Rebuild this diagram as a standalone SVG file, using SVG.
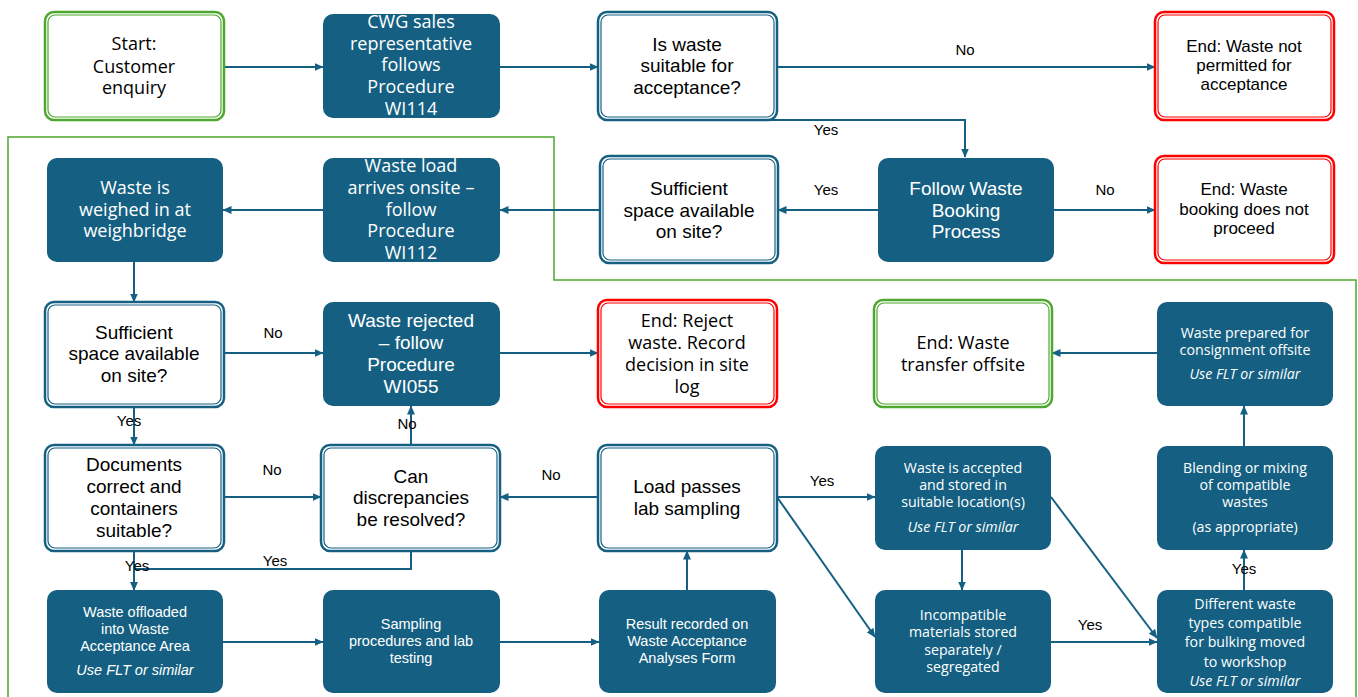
<svg xmlns="http://www.w3.org/2000/svg" width="1358" height="697" viewBox="0 0 1358 697">
<style>
.fill{fill:#156082;stroke:none}
.ob{fill:#fff;stroke:#156082;stroke-width:2.5}
.ib{fill:none;stroke:#156082;stroke-width:1.2}
.or{fill:#fff;stroke:#ff0000;stroke-width:2.5}
.ir{fill:none;stroke:#ff0000;stroke-width:1.2}
.og{fill:#fff;stroke:#4ea72e;stroke-width:2.5}
.ig{fill:none;stroke:#4ea72e;stroke-width:1.2}
text{text-anchor:middle}
.w{fill:#fff}
.k{fill:#000}
.reg{font-family:"Open Sans","Liberation Sans",sans-serif;font-size:18px}
.nar{font-family:"Liberation Sans",Arial,sans-serif;font-size:19px}
.nar17{font-family:"Liberation Sans",Arial,sans-serif;font-size:17px}
.sm{font-family:"Open Sans","Liberation Sans",sans-serif;font-size:14.2px}
.smn{font-family:"Liberation Sans",Arial,sans-serif;font-size:14.5px}
.it{font-style:italic}
.lbl{font-family:"Liberation Sans",Arial,sans-serif;font-size:15px;fill:#000}
.c{fill:none;stroke:#156082;stroke-width:2}
.bound{fill:none;stroke:#4ea72e;stroke-width:1.5}
</style>
<defs>
<marker id="ah" markerUnits="userSpaceOnUse" markerWidth="9" markerHeight="8" refX="8.5" refY="4" orient="auto">
<path d="M0,0 L9,4 L0,8 z" fill="#156082"/>
</marker>
</defs>

<polyline class="bound" points="8,697 8,137 554,137 554,280 1356,280 1356,697"/>

<g id="connectors">
<path class="c" marker-end="url(#ah)" d="M224,67 H323"/>
<path class="c" marker-end="url(#ah)" d="M500,67 H598"/>
<path class="c" marker-end="url(#ah)" d="M777,67 H1155"/>
<path class="c" marker-end="url(#ah)" d="M687,120 H965 V157"/>
<path class="c" marker-end="url(#ah)" d="M878,210 H778"/>
<path class="c" marker-end="url(#ah)" d="M1054,210 H1155"/>
<path class="c" marker-end="url(#ah)" d="M600,210 H500"/>
<path class="c" marker-end="url(#ah)" d="M323,210 H223"/>
<path class="c" marker-end="url(#ah)" d="M134,262 V302"/>
<path class="c" marker-end="url(#ah)" d="M224,353 H323"/>
<path class="c" marker-end="url(#ah)" d="M500,353 H598"/>
<path class="c" marker-end="url(#ah)" d="M1157,353 H1052"/>
<path class="c" marker-end="url(#ah)" d="M134,407 V445"/>
<path class="c" marker-end="url(#ah)" d="M411,445 V406"/>
<path class="c" marker-end="url(#ah)" d="M224,497 H321"/>
<path class="c" marker-end="url(#ah)" d="M598,497 H500"/>
<path class="c" marker-end="url(#ah)" d="M777,497 H875"/>
<path class="c" marker-end="url(#ah)" d="M777,497 L875,637"/>
<path class="c" marker-end="url(#ah)" d="M1051,497 L1157,638"/>
<path class="c" marker-end="url(#ah)" d="M962,550 V590"/>
<path class="c" marker-end="url(#ah)" d="M1244,446 V406"/>
<path class="c" marker-end="url(#ah)" d="M1244,590 V550"/>
<path class="c" marker-end="url(#ah)" d="M411,551 V569 H134 V590"/>
<path class="c" marker-end="url(#ah)" d="M134,551 V590"/>
<path class="c" marker-end="url(#ah)" d="M223,642 H323"/>
<path class="c" marker-end="url(#ah)" d="M500,642 H599"/>
<path class="c" marker-end="url(#ah)" d="M687,590 V551"/>
<path class="c" marker-end="url(#ah)" d="M1051,642 H1157"/>
<text class="lbl" x="965" y="55">No</text>
<text class="lbl" x="826" y="135">Yes</text>
<text class="lbl" x="826" y="195">Yes</text>
<text class="lbl" x="1105" y="195">No</text>
<text class="lbl" x="273" y="338">No</text>
<text class="lbl" x="129" y="426">Yes</text>
<text class="lbl" x="407" y="429">No</text>
<text class="lbl" x="272" y="475">No</text>
<text class="lbl" x="551" y="480">No</text>
<text class="lbl" x="822" y="486">Yes</text>
<text class="lbl" x="1244" y="574">Yes</text>
<text class="lbl" x="275" y="566">Yes</text>
<text class="lbl" x="137" y="571">Yes</text>
<text class="lbl" x="1090" y="630">Yes</text>
</g>

<g id="n_start">
<rect class="og" x="45" y="12" width="179" height="108" rx="9"/>
<rect class="ig" x="48" y="15" width="173" height="102" rx="7"/>
<text class="reg k"><tspan x="134" y="50">Start:</tspan><tspan x="134" y="73">Customer</tspan><tspan x="134" y="94">enquiry</tspan></text>
</g>

<g id="n_cwg">
<rect class="fill" x="323" y="14" width="177" height="104" rx="10"/>
<text class="reg w"><tspan x="411" y="28">CWG sales</tspan><tspan x="411" y="50">representative</tspan><tspan x="411" y="71">follows</tspan><tspan x="411" y="93">Procedure</tspan><tspan x="411" y="115">WI114</tspan></text>
</g>

<g id="n_q1">
<rect class="ob" x="598" y="12" width="179" height="108" rx="9"/>
<rect class="ib" x="601" y="15" width="173" height="102" rx="7"/>
<text class="nar k"><tspan x="687" y="51">Is waste</tspan><tspan x="687" y="72">suitable for</tspan><tspan x="687" y="94">acceptance?</tspan></text>
</g>

<g id="n_end1">
<rect class="or" x="1155" y="12" width="179" height="108" rx="9"/>
<rect class="ir" x="1158" y="15" width="173" height="102" rx="7"/>
<text class="nar17 k"><tspan x="1244" y="52">End: Waste not</tspan><tspan x="1244" y="71">permitted for</tspan><tspan x="1244" y="90">acceptance</tspan></text>
</g>

<g id="n_weigh">
<rect class="fill" x="47" y="158" width="176" height="104" rx="10"/>
<text class="reg w"><tspan x="135" y="194">Waste is</tspan><tspan x="135" y="216">weighed in at</tspan><tspan x="135" y="237">weighbridge</tspan></text>
</g>

<g id="n_arrive">
<rect class="fill" x="323" y="158" width="177" height="104" rx="10"/>
<text class="reg w"><tspan x="411" y="172">Waste load</tspan><tspan x="411" y="194">arrives onsite –</tspan><tspan x="411" y="216">follow</tspan><tspan x="411" y="237">Procedure</tspan><tspan x="411" y="259">WI112</tspan></text>
</g>

<g id="n_q2">
<rect class="ob" x="600" y="156" width="178" height="107" rx="9"/>
<rect class="ib" x="603" y="159" width="172" height="101" rx="7"/>
<text class="nar k"><tspan x="689" y="195">Sufficient</tspan><tspan x="689" y="217">space available</tspan><tspan x="689" y="238">on site?</tspan></text>
</g>

<g id="n_booking">
<rect class="fill" x="878" y="158" width="176" height="104" rx="10"/>
<text class="nar w"><tspan x="966" y="195">Follow Waste</tspan><tspan x="966" y="217">Booking</tspan><tspan x="966" y="238">Process</tspan></text>
</g>

<g id="n_end2">
<rect class="or" x="1155" y="156" width="179" height="107" rx="9"/>
<rect class="ir" x="1158" y="159" width="173" height="101" rx="7"/>
<text class="nar17 k"><tspan x="1244" y="195">End: Waste</tspan><tspan x="1244" y="215">booking does not</tspan><tspan x="1244" y="234">proceed</tspan></text>
</g>

<g id="n_q3">
<rect class="ob" x="45" y="302" width="179" height="105" rx="9"/>
<rect class="ib" x="48" y="305" width="173" height="99" rx="7"/>
<text class="nar k"><tspan x="134" y="339">Sufficient</tspan><tspan x="134" y="360">space available</tspan><tspan x="134" y="382">on site?</tspan></text>
</g>

<g id="n_reject">
<rect class="fill" x="323" y="302" width="177" height="104" rx="10"/>
<text class="nar w"><tspan x="411" y="327">Waste rejected</tspan><tspan x="411" y="349">– follow</tspan><tspan x="411" y="371">Procedure</tspan><tspan x="411" y="393">WI055</tspan></text>
</g>

<g id="n_end3">
<rect class="or" x="598" y="300" width="179" height="107" rx="9"/>
<rect class="ir" x="601" y="303" width="173" height="101" rx="7"/>
<text class="reg k"><tspan x="687" y="327">End: Reject</tspan><tspan x="687" y="349">waste. Record</tspan><tspan x="687" y="371">decision in site</tspan><tspan x="687" y="393">log</tspan></text>
</g>

<g id="n_transfer">
<rect class="og" x="874" y="300" width="178" height="107" rx="9"/>
<rect class="ig" x="877" y="303" width="172" height="101" rx="7"/>
<text class="reg k"><tspan x="963" y="349">End: Waste</tspan><tspan x="963" y="371">transfer offsite</tspan></text>
</g>

<g id="n_prep">
<rect class="fill" x="1157" y="302" width="176" height="104" rx="10"/>
<text class="sm w"><tspan x="1245" y="338">Waste prepared for</tspan><tspan x="1245" y="355">consignment offsite</tspan><tspan x="1245" y="379" class="it">Use FLT or similar</tspan></text>
</g>

<g id="n_docs">
<rect class="ob" x="45" y="445" width="179" height="106" rx="9"/>
<rect class="ib" x="48" y="448" width="173" height="100" rx="7"/>
<text class="nar k"><tspan x="134" y="471">Documents</tspan><tspan x="134" y="493">correct and</tspan><tspan x="134" y="515">containers</tspan><tspan x="134" y="537">suitable?</tspan></text>
</g>

<g id="n_can">
<rect class="ob" x="321" y="445" width="179" height="106" rx="9"/>
<rect class="ib" x="324" y="448" width="173" height="100" rx="7"/>
<text class="nar k"><tspan x="411" y="483">Can</tspan><tspan x="411" y="504">discrepancies</tspan><tspan x="411" y="526">be resolved?</tspan></text>
</g>

<g id="n_load">
<rect class="ob" x="598" y="445" width="179" height="106" rx="9"/>
<rect class="ib" x="601" y="448" width="173" height="100" rx="7"/>
<text class="nar k"><tspan x="687" y="493">Load passes</tspan><tspan x="687" y="515">lab sampling</tspan></text>
</g>

<g id="n_accepted">
<rect class="fill" x="875" y="446" width="176" height="104" rx="10"/>
<text class="sm w"><tspan x="963" y="473">Waste is accepted</tspan><tspan x="963" y="490">and stored in</tspan><tspan x="963" y="507">suitable location(s)</tspan><tspan x="963" y="532" class="it">Use FLT or similar</tspan></text>
</g>

<g id="n_blend">
<rect class="fill" x="1157" y="446" width="176" height="104" rx="10"/>
<text class="sm w"><tspan x="1245" y="473">Blending or mixing</tspan><tspan x="1245" y="490">of compatible</tspan><tspan x="1245" y="507">wastes</tspan><tspan x="1245" y="532">(as appropriate)</tspan></text>
</g>

<g id="n_offload">
<rect class="fill" x="47" y="590" width="176" height="103" rx="10"/>
<text class="smn w"><tspan x="135" y="617">Waste offloaded</tspan><tspan x="135" y="634">into Waste</tspan><tspan x="135" y="651">Acceptance Area</tspan><tspan x="135" y="675" class="it">Use FLT or similar</tspan></text>
</g>

<g id="n_sampling">
<rect class="fill" x="323" y="590" width="177" height="103" rx="10"/>
<text class="smn w"><tspan x="411" y="629">Sampling</tspan><tspan x="411" y="646">procedures and lab</tspan><tspan x="411" y="663">testing</tspan></text>
</g>

<g id="n_result">
<rect class="fill" x="599" y="590" width="177" height="103" rx="10"/>
<text class="smn w"><tspan x="687" y="629">Result recorded on</tspan><tspan x="687" y="646">Waste Acceptance</tspan><tspan x="687" y="663">Analyses Form</tspan></text>
</g>

<g id="n_incompat">
<rect class="fill" x="875" y="590" width="176" height="103" rx="10"/>
<text class="sm w"><tspan x="963" y="620">Incompatible</tspan><tspan x="963" y="637">materials stored</tspan><tspan x="963" y="655">separately /</tspan><tspan x="963" y="672">segregated</tspan></text>
</g>

<g id="n_different">
<rect class="fill" x="1157" y="590" width="176" height="103" rx="10"/>
<text class="sm w"><tspan x="1245" y="609">Different waste</tspan><tspan x="1245" y="628">types compatible</tspan><tspan x="1245" y="647">for bulking moved</tspan><tspan x="1245" y="667">to workshop</tspan><tspan x="1245" y="686" class="it">Use FLT or similar</tspan></text>
</g>
</svg>
